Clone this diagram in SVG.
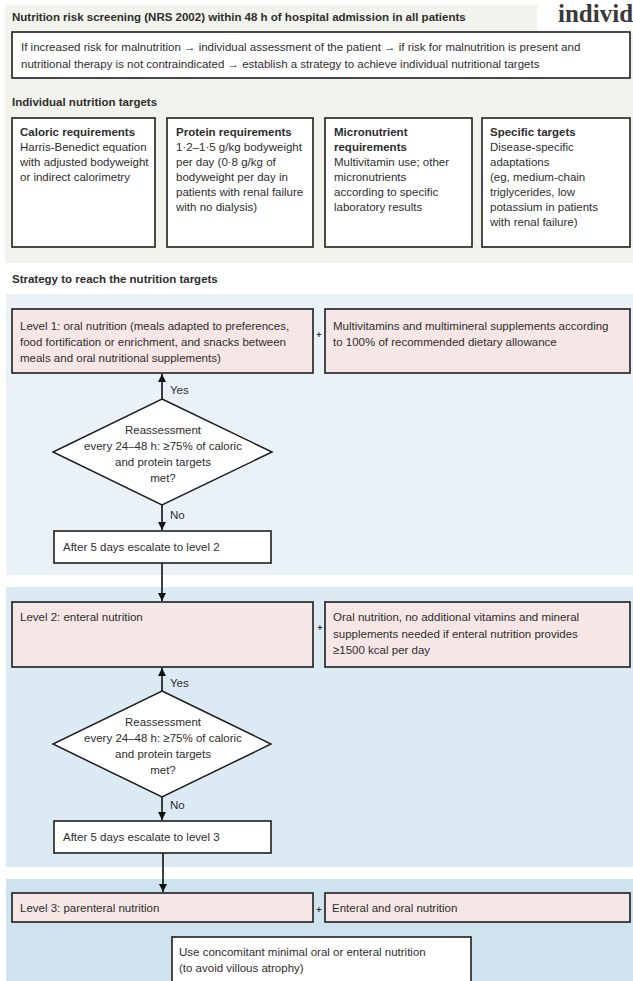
<svg xmlns="http://www.w3.org/2000/svg" width="633" height="981" viewBox="0 0 633 981">
<defs>
<style>
text{font-family:"Liberation Sans",Arial,sans-serif;font-size:11.5px;fill:#2e2e2e}
.b{font-weight:bold}
.c{text-anchor:middle}
.box{fill:#fff;stroke:#1e1e1e;stroke-width:1.6}
.pink{fill:#f6e6e5;stroke:#1e1e1e;stroke-width:1.6}
.dia{fill:#fff;stroke:#1e1e1e;stroke-width:1.5}
.con{stroke:#111;stroke-width:1.6;fill:none}
.plus{font-size:9px;font-weight:bold;text-anchor:middle}
</style>
<marker id="ah" markerUnits="userSpaceOnUse" markerWidth="8" markerHeight="8" refX="8" refY="4" orient="auto">
<path d="M0,0 L8,4 L0,8 z" fill="#111"/>
</marker>
</defs>

<g id="backgrounds">
<rect x="5" y="5" width="628" height="258" fill="#f1f3ec"/>
<rect x="537" y="0" width="96" height="33" fill="#ffffff"/>
<rect x="6" y="294" width="627" height="281" fill="#eaf2f8"/>
<rect x="6" y="587" width="627" height="280" fill="#dceaf3"/>
<rect x="6" y="879" width="627" height="102" fill="#cfe3ee"/>
</g>

<g id="titles">
<text class="b" x="12" y="21">Nutrition risk screening (NRS 2002) within 48 h of hospital admission in all patients</text>
<text x="558" y="22" style="font-family:'Liberation Serif','Times New Roman',serif;font-size:25px;font-weight:bold;fill:#3a3a3a">individ</text>
<text class="b" x="12" y="106">Individual nutrition targets</text>
<text class="b" x="12" y="283">Strategy to reach the nutrition targets</text>
</g>

<g id="screening">
<rect class="box" x="12" y="32" width="618" height="46"/>
<text x="21" y="51">If increased risk for malnutrition → individual assessment of the patient → if risk for malnutrition is present and</text>
<text x="21" y="68">nutritional therapy is not contraindicated → establish a strategy to achieve individual nutritional targets</text>
</g>

<g id="caloric">
<rect class="box" x="12" y="118" width="143" height="129"/>
<text class="b" x="20" y="136">Caloric requirements</text>
<text x="20" y="151">Harris-Benedict equation</text>
<text x="20" y="166">with adjusted bodyweight</text>
<text x="20" y="181">or indirect calorimetry</text>
</g>

<g id="protein">
<rect class="box" x="167" y="118" width="146" height="129"/>
<text class="b" x="176" y="136">Protein requirements</text>
<text x="176" y="151">1·2–1·5 g/kg bodyweight</text>
<text x="176" y="166">per day (0·8 g/kg of</text>
<text x="176" y="181">bodyweight per day in</text>
<text x="176" y="196">patients with renal failure</text>
<text x="176" y="211">with no dialysis)</text>
</g>

<g id="micronutrient">
<rect class="box" x="325" y="118" width="147" height="129"/>
<text class="b" x="334" y="136">Micronutrient</text>
<text class="b" x="334" y="151">requirements</text>
<text x="334" y="166">Multivitamin use; other</text>
<text x="334" y="181">micronutrients</text>
<text x="334" y="196">according to specific</text>
<text x="334" y="211">laboratory results</text>
</g>

<g id="specific">
<rect class="box" x="482" y="118" width="148" height="129"/>
<text class="b" x="490" y="136">Specific targets</text>
<text x="490" y="151">Disease-specific</text>
<text x="490" y="166">adaptations</text>
<text x="490" y="181">(eg, medium-chain</text>
<text x="490" y="196">triglycerides, low</text>
<text x="490" y="211">potassium in patients</text>
<text x="490" y="226">with renal failure)</text>
</g>

<g id="connectors">
<line class="con" x1="162" y1="399" x2="162" y2="374" marker-end="url(#ah)"/>
<line class="con" x1="162" y1="505" x2="162" y2="530" marker-end="url(#ah)"/>
<line class="con" x1="162" y1="563" x2="162" y2="601" marker-end="url(#ah)"/>
<line class="con" x1="162" y1="691" x2="162" y2="668" marker-end="url(#ah)"/>
<line class="con" x1="162" y1="797" x2="162" y2="820" marker-end="url(#ah)"/>
<line class="con" x1="163" y1="853" x2="163" y2="892" marker-end="url(#ah)"/>
<text x="170" y="394">Yes</text>
<text x="170" y="519">No</text>
<text x="170" y="687">Yes</text>
<text x="170" y="809">No</text>
<text class="plus" x="319" y="338">+</text>
<text class="plus" x="320" y="631">+</text>
<text class="plus" x="319" y="913">+</text>
</g>

<g id="level1">
<rect class="pink" x="12" y="309" width="301" height="64"/>
<text x="20" y="330">Level 1: oral nutrition (meals adapted to preferences,</text>
<text x="20" y="346">food fortification or enrichment, and snacks between</text>
<text x="20" y="362">meals and oral nutritional supplements)</text>
</g>

<g id="level1-supplements">
<rect class="pink" x="325" y="309" width="305" height="64"/>
<text x="333" y="330">Multivitamins and multimineral supplements according</text>
<text x="333" y="346">to 100% of recommended dietary allowance</text>
</g>

<g id="reassess1">
<polygon class="dia" points="162,399 272,452 162,505 53,452"/>
<text class="c" x="163" y="434">Reassessment</text>
<text class="c" x="163" y="450">every 24–48 h: ≥75% of caloric</text>
<text class="c" x="163" y="466">and protein targets</text>
<text class="c" x="163" y="482">met?</text>
</g>

<g id="escalate2">
<rect class="box" x="54" y="531" width="217" height="32"/>
<text x="63" y="551">After 5 days escalate to level 2</text>
</g>

<g id="level2">
<rect class="pink" x="12" y="602" width="301" height="65"/>
<text x="20" y="621">Level 2: enteral nutrition</text>
</g>

<g id="level2-oral">
<rect class="pink" x="325" y="602" width="305" height="65"/>
<text x="333" y="621">Oral nutrition, no additional vitamins and mineral</text>
<text x="333" y="638">supplements needed if enteral nutrition provides</text>
<text x="333" y="654">≥1500 kcal per day</text>
</g>

<g id="reassess2">
<polygon class="dia" points="162,691 271,744 162,797 53,744"/>
<text class="c" x="163" y="726">Reassessment</text>
<text class="c" x="163" y="742">every 24–48 h: ≥75% of caloric</text>
<text class="c" x="163" y="758">and protein targets</text>
<text class="c" x="163" y="774">met?</text>
</g>

<g id="escalate3">
<rect class="box" x="54" y="821" width="217" height="32"/>
<text x="63" y="841">After 5 days escalate to level 3</text>
</g>

<g id="level3">
<rect class="pink" x="12" y="893" width="301" height="29"/>
<text x="20" y="912">Level 3: parenteral nutrition</text>
</g>

<g id="level3-oral">
<rect class="pink" x="325" y="893" width="305" height="29"/>
<text x="332" y="912">Enteral and oral nutrition</text>
</g>

<g id="minimal-oral">
<rect class="box" x="172" y="937" width="299" height="50"/>
<text x="179" y="956">Use concomitant minimal oral or enteral nutrition</text>
<text x="179" y="972">(to avoid villous atrophy)</text>
</g>
</svg>
